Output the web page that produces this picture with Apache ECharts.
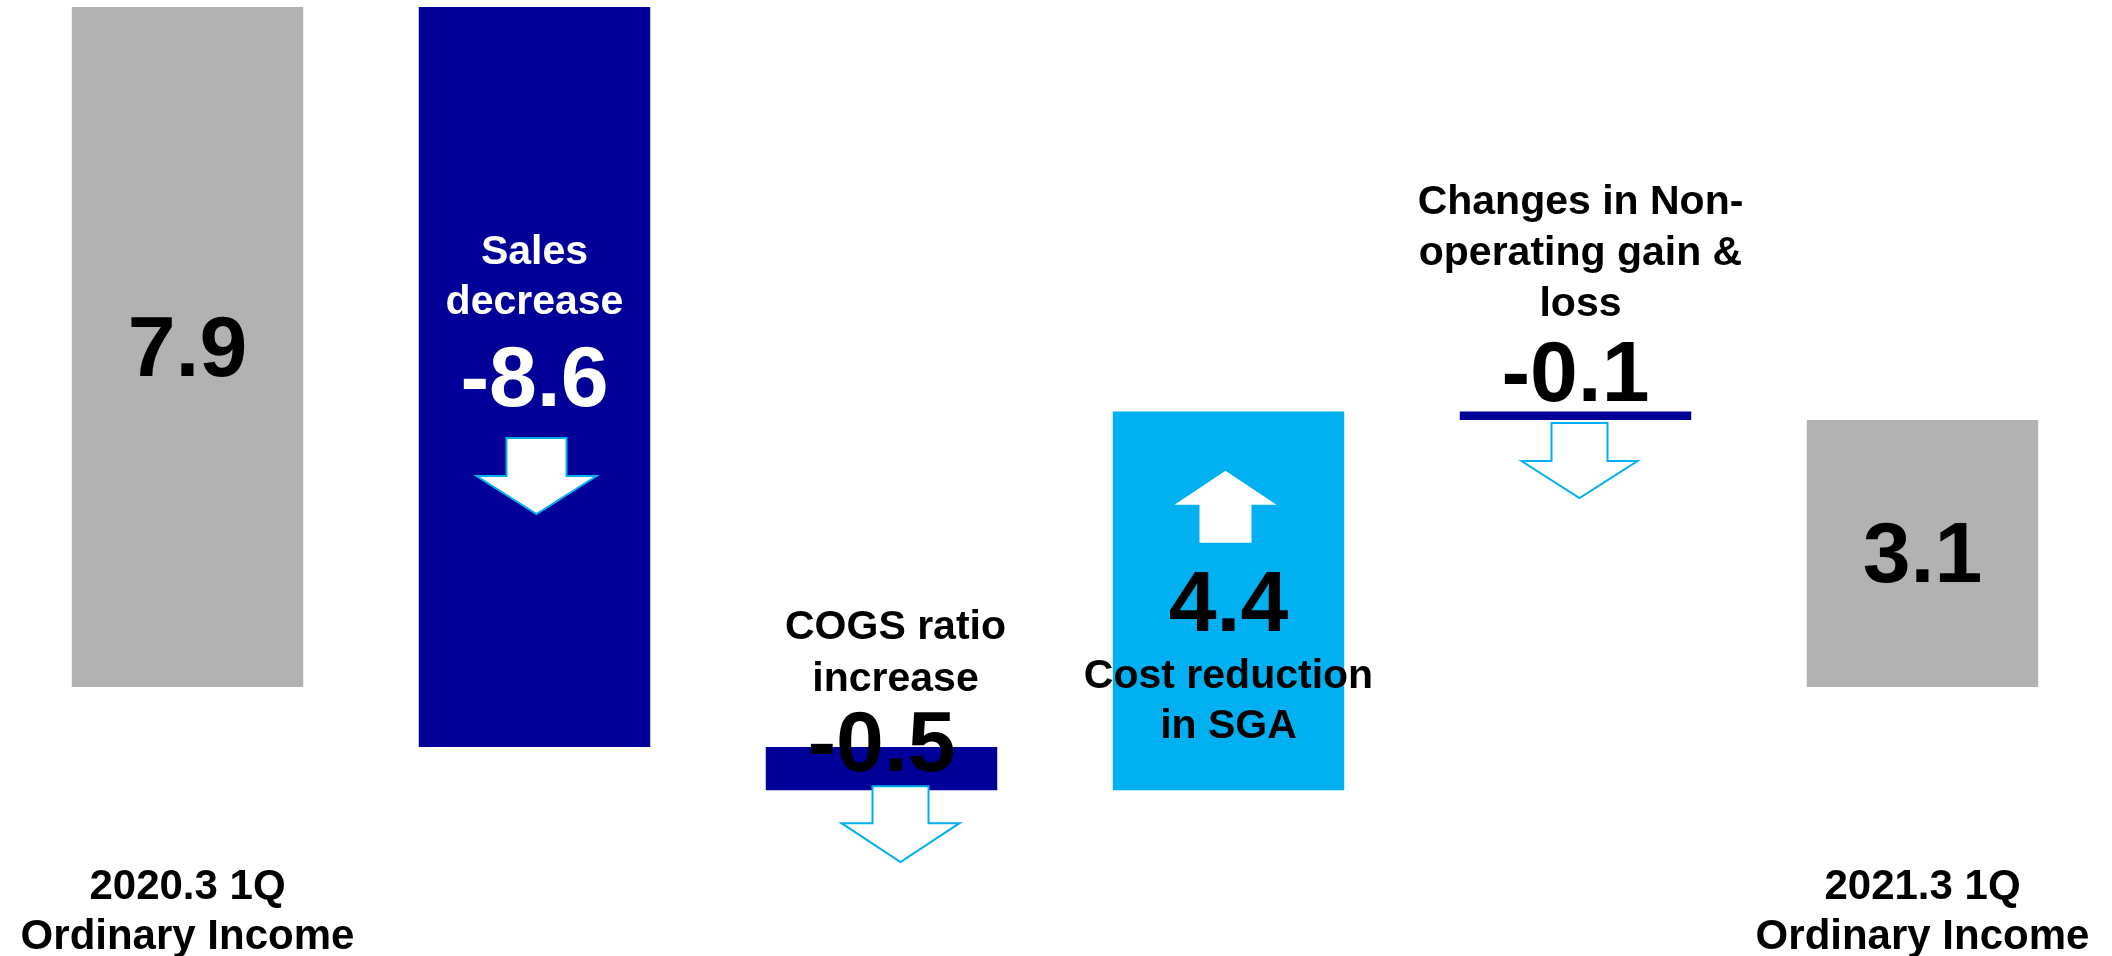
<!DOCTYPE html>
<html>
<head>
<meta charset="utf-8">
<script src="https://cdn.jsdelivr.net/npm/echarts@6/dist/echarts.min.js"></script>
<style>
  html, body { margin: 0; padding: 0; background: #ffffff; }
  #chart { width: 2112px; height: 956px; }
</style>
</head>
<body>
<div id="chart"></div>
<script>
// ---------------- DATA ----------------
const categories = [
  '2020.3 1Q\nOrdinary Income',
  'Sales\ndecrease',
  'COGS ratio\nincrease',
  'Cost reduction\nin SGA',
  'Changes in Non-\noperating gain &\nloss',
  '2021.3 1Q\nOrdinary Income'
];
const values = [7.9, -8.6, -0.5, 4.4, -0.1, 3.1];
const isTotal = [true, false, false, false, false, true];

// ---------------- BUILD WATERFALL ----------------
const seriesData = [];
let running = 0;
values.forEach(function (v, i) {
  let start, end;
  if (isTotal[i]) { start = 0; end = v; running = v; }
  else { start = running; end = running + v; running = end; }
  seriesData.push([i, start, end, v]);
});

const FONT = '"Liberation Sans", Arial, Helvetica, sans-serif';
const GRAY = '#B2B2B2', DARK = '#000099', LIGHT = '#00B0F0';
const TY = 5; // text baseline correction

function txt(text, x, y, size, color, lh) {
  return { type: 'text', z2: 10, style: {
    text: text, x: x, y: y + TY, fill: color, fontSize: size, fontWeight: 'bold',
    fontFamily: FONT, align: 'center', verticalAlign: 'middle', lineHeight: lh || size
  } };
}
function downArrow(cx, top, shoulder, tip, sw, hw, fill, stroke) {
  return { type: 'polygon', z2: 5, shape: { points: [
    [cx - sw, top], [cx + sw, top], [cx + sw, shoulder], [cx + hw, shoulder],
    [cx, tip], [cx - hw, shoulder], [cx - sw, shoulder]
  ] }, style: { fill: fill, stroke: stroke, lineWidth: 2 } };
}
function upArrow(cx, tip, shoulder, base, sw, hw, fill) {
  return { type: 'polygon', z2: 5, shape: { points: [
    [cx, tip], [cx + hw, shoulder], [cx + sw, shoulder], [cx + sw, base],
    [cx - sw, base], [cx - sw, shoulder], [cx - hw, shoulder]
  ] }, style: { fill: fill } };
}
function fmt(v) { return v.toFixed(1); }

function renderItem(params, api) {
  const i = api.value(0);
  const p1 = api.coord([i, api.value(1)]);
  const p2 = api.coord([i, api.value(2)]);
  const v = api.value(3);
  const bw = api.size([1, 0])[0] * 0.667;
  const cx = p1[0];
  const top = Math.min(p1[1], p2[1]);
  const bottom = Math.max(p1[1], p2[1]);
  const cy = (top + bottom) / 2;
  const color = isTotal[i] ? GRAY : (v < 0 ? DARK : LIGHT);
  const children = [{
    type: 'rect', z2: 1,
    shape: { x: cx - bw / 2, y: top, width: bw, height: bottom - top },
    style: { fill: color }
  }];
  const label = fmt(v);
  const name = categories[i];
  if (isTotal[i]) {
    children.push(txt(label, cx, cy, 86, '#000000'));
  } else if (i === 1) {
    children.push(txt(name, cx, cy - 104, 41, '#ffffff', 50));
    children.push(txt(label, cx, cy, 86, '#ffffff'));
    children.push(downArrow(cx + 2, cy + 61, cy + 99, cy + 137, 30, 60, '#ffffff', LIGHT));
  } else if (i === 2) {
    children.push(txt(name, cx + 14, top - 98, 41, '#000000', 52));
    children.push(txt(label, cx, top - 5, 86, '#000000'));
    children.push(downArrow(cx + 19, bottom - 4, bottom + 33, bottom + 72, 28, 59, '#ffffff', LIGHT));
  } else if (i === 3) {
    children.push(upArrow(cx - 3, cy - 130, cy - 96, cy - 58, 26, 51, '#ffffff'));
    children.push(txt(label, cx, cy + 1, 86, '#000000'));
    children.push(txt(name, cx, cy + 96, 41, '#000000', 50));
  } else if (i === 4) {
    children.push(txt(name, cx + 5, top - 163, 41, '#000000', 51));
    children.push(txt(label, cx, top - 39, 86, '#000000'));
    children.push(downArrow(cx + 4, bottom + 3, bottom + 41, bottom + 78, 28, 58, '#ffffff', LIGHT));
  }
  return { type: 'group', children: children };
}

const chart = echarts.init(document.getElementById('chart'), null, { renderer: 'canvas' });
chart.setOption({
  backgroundColor: '#ffffff',
  animation: false,
  grid: { left: 14, right: 16, top: 7, bottom: 97, containLabel: false, outerBoundsMode: 'none' },
  xAxis: {
    type: 'category',
    data: categories,
    axisLine: { show: false },
    axisTick: { show: false },
    splitLine: { show: false },
    axisLabel: {
      interval: 0,
      margin: 3,
      color: '#000000',
      fontSize: 42,
      fontWeight: 'bold',
      fontFamily: FONT,
      lineHeight: 50,
      formatter: function (val, idx) { return isTotal[idx] ? val : ''; }
    }
  },
  yAxis: {
    type: 'value', min: -2, max: 7.9,
    show: false,
    splitLine: { show: false }
  },
  series: [{
    type: 'custom',
    renderItem: renderItem,
    encode: { x: 0, y: [1, 2] },
    data: seriesData,
    clip: false
  }]
});
</script>
</body>
</html>
